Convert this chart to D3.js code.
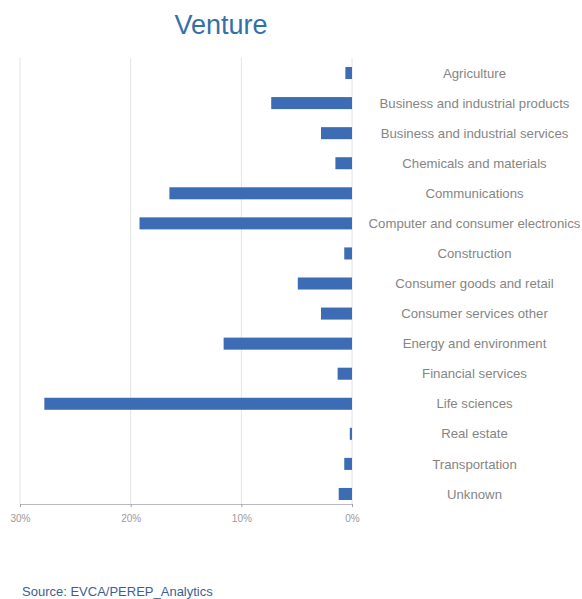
<!DOCTYPE html>
<html>
<head>
<meta charset="utf-8">
<script src="https://cdn.jsdelivr.net/npm/d3@7/dist/d3.min.js"></script>
<style>
  html, body { margin: 0; padding: 0; background: #fff; }
  svg { display: block; font-family: "Liberation Sans", Arial, sans-serif; }
</style>
</head>
<body>
<svg id="chart" width="582" height="599"></svg>
<script>
// Venture investment share by sector (%)
const sectors = [
  "Agriculture",
  "Business and industrial products",
  "Business and industrial services",
  "Chemicals and materials",
  "Communications",
  "Computer and consumer electronics",
  "Construction",
  "Consumer goods and retail",
  "Consumer services other",
  "Energy and environment",
  "Financial services",
  "Life sciences",
  "Real estate",
  "Transportation",
  "Unknown"
];
const shares = [0.6, 7.3, 2.8, 1.5, 16.5, 19.2, 0.7, 4.9, 2.8, 11.6, 1.3, 27.8, 0.2, 0.7, 1.2];
const tickValues = [30, 20, 10, 0];

const svg = d3.select("#chart");

// reversed x axis: 30% at left, 0% at right
const x = d3.scaleLinear().domain([30, 0]).range([20, 352]);
const y = d3.scaleBand().domain(sectors).range([58, 509]).paddingInner(0.6).paddingOuter(0.3);

// vertical gridlines
svg.append("g")
  .selectAll("line")
  .data(tickValues)
  .join("line")
  .attr("x1", d => x(d)).attr("x2", d => x(d))
  .attr("y1", 58).attr("y2", 504)
  .attr("stroke", "#e4e4e4")
  .attr("stroke-width", 1);

// bars
svg.append("g")
  .selectAll("rect")
  .data(shares)
  .join("rect")
  .attr("x", d => x(d))
  .attr("y", (d, i) => y(sectors[i]))
  .attr("width", d => x(0) - x(d))
  .attr("height", y.bandwidth())
  .attr("fill", "#3b6cb4");

// x axis
const axis = svg.append("g")
  .attr("transform", "translate(0,504)")
  .call(d3.axisBottom(x).tickValues(tickValues).tickFormat(d => d + "%").tickSize(3).tickPadding(8));
axis.select(".domain").attr("stroke", "#b8b8c8");
axis.selectAll(".tick line").attr("stroke", "#a0a0a0");
axis.selectAll(".tick text")
  .attr("fill", "#9a9a9a")
  .style("font-size", "10px")
  .style("font-family", "Liberation Sans, Arial, sans-serif");

// category labels on the right
svg.append("g")
  .selectAll("text")
  .data(sectors)
  .join("text")
  .attr("x", 474.5)
  .attr("y", d => y(d) + y.bandwidth() / 2)
  .attr("dy", "0.35em")
  .attr("text-anchor", "middle")
  .attr("fill", "#858585")
  .style("font-size", "13.2px")
  .text(d => d);

// title
svg.append("text")
  .attr("x", 221)
  .attr("y", 34)
  .attr("text-anchor", "middle")
  .attr("fill", "#3470a8")
  .style("font-size", "27px")
  .text("Venture");

// source note
svg.append("text")
  .attr("x", 22)
  .attr("y", 596)
  .attr("fill", "#3c5f92")
  .style("font-size", "13px")
  .text("Source: EVCA/PEREP_Analytics");
</script>
</body>
</html>
